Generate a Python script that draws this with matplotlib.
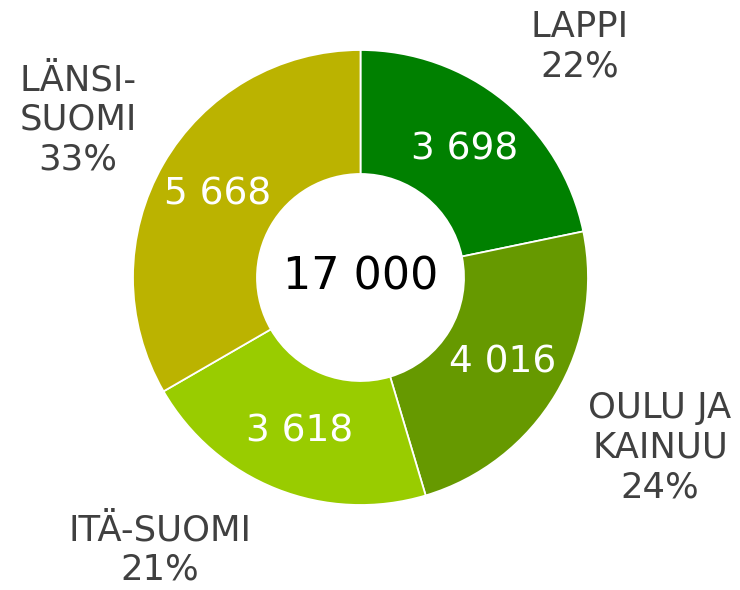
import matplotlib
matplotlib.use('Agg')
import matplotlib.pyplot as plt

# Data
regions = ['LAPPI', 'OULU JA\nKAINUU', 'ITÄ-SUOMI', 'LÄNSI-\nSUOMI']
values = [3698, 4016, 3618, 5668]
colors = ['#008000', '#669900', '#99CC00', '#BBB300']

# Label placement (pixel space, y measured from top)
label_pos = [(580, 47), (660, 448), (160, 550), (78, 120)]

W, H = 740, 590
cx, cy, r_out = 360.5, 277.5, 227.5
ring = 0.545

total = sum(values)


def fmt(n):
    return '{:,}'.format(n).replace(',', ' ')


fig = plt.figure(figsize=(W / 100, H / 100), dpi=100)
ax = fig.add_axes([0, 0, 1, 1])

wedges, _, autotexts = ax.pie(
    values, colors=colors, startangle=90, counterclock=False,
    center=(cx, H - cy), radius=r_out, frame=True,
    wedgeprops=dict(width=r_out * ring, edgecolor='white', linewidth=1.3),
    autopct=lambda p: fmt(int(round(p * total / 100))),
    pctdistance=1 - ring / 2,
    textprops=dict(color='white', fontsize=27))

ax.text(cx, H - cy, fmt(total), ha='center', va='center',
        fontsize=32, color='black')

for name, v, (x, y) in zip(regions, values, label_pos):
    pct = round(v / total * 100)
    ax.text(x, H - y, '{}\n{}%'.format(name, pct), ha='center', va='center',
            fontsize=25.5, color='#404040', linespacing=1.22)

ax.set_xlim(0, W)
ax.set_ylim(0, H)
ax.set_aspect('equal')
ax.axis('off')

fig.savefig('out.png', dpi=100, facecolor='white')
